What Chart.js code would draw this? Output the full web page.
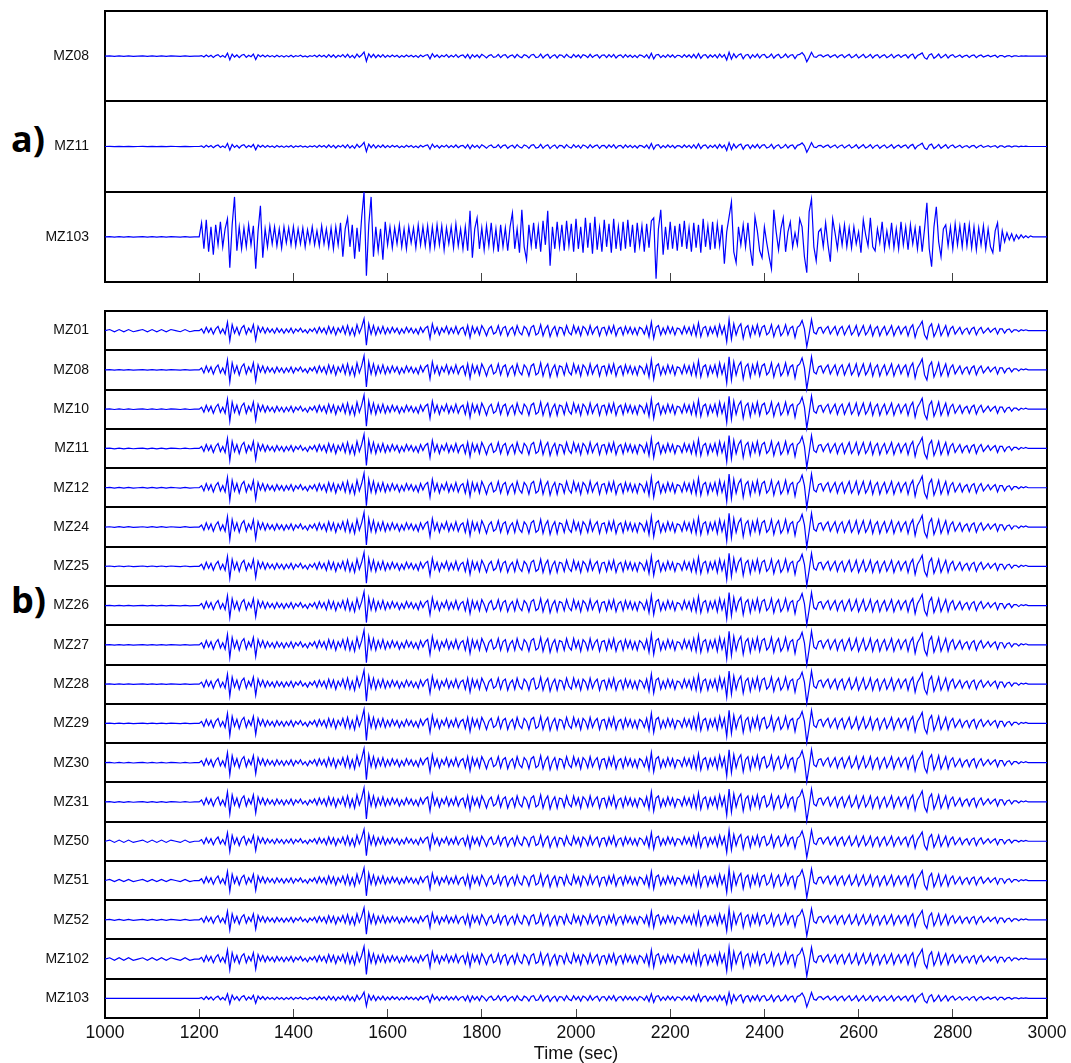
<!DOCTYPE html>
<html>
<head>
<meta charset="utf-8">
<script src="https://cdn.jsdelivr.net/npm/chart.js@4.4.1/dist/chart.umd.min.js"></script>
<style>
body{margin:0;background:#fff;overflow:hidden;width:1071px;height:1063px;position:relative;font-family:"Liberation Sans",Arial,sans-serif}
canvas{position:absolute;left:0}
#cA{top:0}
#cB{top:300px}
.pl{position:absolute;left:11px;font-family:"Open Sans","Noto Sans",sans-serif;font-weight:700;font-size:36px;line-height:1;color:#000}
</style>
</head>
<body>
<div class="pl" style="top:121px">a)</div>
<div class="pl" style="top:582px">b)</div>
<canvas id="cA" width="1071" height="290"></canvas>
<canvas id="cB" width="1071" height="765"></canvas>
<script>
// stations, top to bottom
var stationsA = ['MZ08','MZ11','MZ103'];
var stationsB = ['MZ01','MZ08','MZ10','MZ11','MZ12','MZ24','MZ25','MZ26','MZ27','MZ28','MZ29','MZ30','MZ31','MZ50','MZ51','MZ52','MZ102','MZ103'];

// trace gains (pixels per wave unit) and pre-event noise level
var gainsA = [0.3, 0.3, 1];
var noiseA = [0.2, 0.2, 0.3];
var gainsB = [0.85,1,1,1,1.05,1.05,1,1,1.05,1,1,1,1,0.85,0.9,0.85,0.9,0.45];
var noiseB = [1.1,0.3,0.3,0.3,0.3,0.3,0.3,0.3,0.3,0.3,0.3,0.3,0.3,1.2,1.1,0.5,1.3,0];

var xTicks = [1000,1200,1400,1600,1800,2000,2200,2400,2600,2800,3000];

// pre-event ripple, 1000-1190 s every 10 s
var preStart = 1000, preStep = 10;
var preNoise = [0,1,-1,1,-1,1,-1,0,1,-1,1,-1,1,-1,1,0,-1,1,-1,0];

// waveforms, from 1200 s every 5 s (up = positive)
var waveStart = 1200, waveStep = 5;
var waveShared = [
  0,2,-3,4,-2,3,-4,2,5,-3,2,-4,10,-12,7,-3,4,-5,3,6,
  -4,3,-2,7,-11,5,-2,4,-3,3,-2,2,-3,3,-2,2,-3,2,-2,3,
  -3,2,-1,3,-2,1,-3,2,-1,3,-3,4,-2,3,-4,5,-3,4,-5,3,
  -2,5,-4,6,-5,3,-6,7,-3,4,14,-17,8,-4,6,-5,4,-3,5,-4,
  3,-3,4,-2,3,-4,2,-3,4,-2,3,-3,2,-4,4,-2,3,5,-9,8,
  -3,4,-5,3,-2,5,-4,3,-3,5,-4,2,4,-5,6,-8,5,-3,4,-5,
  6,1,-6,2,5,-4,-2,6,-5,3,5,-6,1,4,-5,6,-2,-5,5,2,
  -6,4,6,-5,-3,7,-6,2,6,-7,1,5,-6,4,3,-5,6,-2,-5,6,
  -3,4,-6,5,2,-5,6,-4,2,5,-6,3,4,-5,5,-3,6,-6,2,4,
  -5,5,-3,4,-4,3,-5,4,2,-4,5,-7,10,-9,4,6,-5,3,-4,5,
  -3,4,-5,3,2,-4,5,-3,4,-5,6,-6,9,-7,3,5,-6,4,-3,5,
  -6,7,-4,5,-13,13,-10,8,-5,4,8,-9,3,6,-7,5,-4,7,-6,4,
  6,-5,-2,7,-7,2,6,-6,-2,7,-5,3,5,-8,4,6,12,2,-19,-4,
  13,-2,-4,3,4,-3,2,5,-4,1,5,-5,2,5,-5,1,6,-5,-1,6,
  -6,0,6,-5,-1,6,-6,2,5,-6,1,5,-5,0,6,-6,1,5,-4,2,
  5,-6,3,7,-8,2,6,11,-5,-10,4,8,-7,-1,7,-6,0,6,-6,2,
  5,-4,0,4,-4,1,3,-4,2,4,-5,1,4,-3,0,3,-2,1,3,-4,
  2,2,-3,1,2,-2,1,1,-1,1,0,1,0
];
var waveMZ103a = [
  0,14,-12,17,-15,10,-18,12,-8,15,-10,8,18,-31,12,40,-14,10,-12,9,
  -10,12,-8,11,-32,6,31,-21,8,-10,11,-7,10,-9,8,-11,10,-6,9,-8,
  10,-9,8,-7,9,-10,7,-6,10,-8,6,-9,11,-7,8,-10,9,-12,10,-8,
  14,-20,8,19,-10,12,-22,9,-15,20,45,-39,12,40,-20,10,-14,8,-23,15,
  -8,10,-11,9,-7,12,-10,8,-12,10,-6,9,-11,12,-8,10,-9,11,-12,10,
  -10,12,-8,11,-13,9,-7,10,-11,13,-9,8,-12,10,-14,26,-21,8,19,-12,
  9,-13,11,-9,14,-12,8,-15,12,-10,9,-14,10,24,-12,8,-16,27,-10,-23,
  12,-9,14,-12,10,-15,16,-8,26,-29,10,-12,15,-10,12,-14,16,-9,13,-15,
  18,-12,10,-16,19,-11,14,-17,20,-13,9,-15,17,-10,13,-16,18,-12,10,-14,
  15,-12,17,-10,12,-16,14,-9,11,-15,13,-11,16,19,-42,8,27,-18,10,-13,
  15,-12,11,-14,13,-10,16,-12,9,-15,14,-11,12,-16,18,-10,11,-13,15,-12,
  13,-9,12,-27,5,20,35,-15,-26,10,-8,12,-10,14,-12,-29,20,6,-14,-21,
  10,-6,-20,-32,27,5,-13,8,19,-15,5,15,-10,4,-8,18,10,-20,-36,25,
  38,-10,-24,5,8,-10,14,-8,-25,18,4,-12,10,-8,12,-10,9,-11,10,-7,
  5,-16,17,2,-9,19,-10,-14,8,-6,15,-12,6,-9,14,-11,8,-12,15,-8,
  10,-13,12,-7,9,-12,11,-15,8,34,-12,-30,10,30,-5,-20,8,12,-9,10,
  -12,13,-8,11,-10,14,-9,12,-11,10,-13,9,-8,11,-12,8,-10,-16,6,14,
  -15,6,-5,4,-3,3,-4,2,-2,2,-1,1,-1,1,0,0
];
var wavesA = [waveShared, waveShared, waveMZ103a];

function trace(wave, gain, noise, row, rowPx){
  var pts = [];
  preNoise.forEach(function(v, i){
    pts.push({x: preStart + i*preStep, y: row + 0.5 - v*noise/rowPx});
  });
  wave.forEach(function(v, i){
    pts.push({x: waveStart + i*waveStep, y: row + 0.5 - v*gain/rowPx});
  });
  pts.push({x: 3000, y: row + 0.5});
  return {data: pts, borderColor: '#0000ff', borderWidth: 1.2, pointRadius: 0, tension: 0};
}

// no extra room for edge labels, the frame sits at fixed pixels
function noPad(s){
  s.paddingTop = 0; s.paddingBottom = 0; s.paddingLeft = 0; s.paddingRight = 0;
}

function makeChart(id, names, sets, bottom){
  var n = names.length;
  return new Chart(document.getElementById(id), {
    type: 'line',
    data: {datasets: sets},
    options: {
      responsive: false, animation: false, devicePixelRatio: 1,
      layout: {padding: {top: 11, left: 0, right: 0, bottom: 0}},
      plugins: {legend: {display: false}, tooltip: {enabled: false}},
      scales: {
        x: {
          type: 'linear', min: 1000, max: 3000,
          afterBuildTicks: function(s){ s.ticks = xTicks.map(function(v){ return {value: v}; }); },
          afterFit: function(s){ s.height = bottom ? 47 : 8; noPad(s); },
          grid: {drawOnChartArea: false, drawTicks: true, tickLength: -9, color: '#444', lineWidth: 1},
          border: {display: true, color: '#000', width: 2},
          ticks: {display: bottom, padding: 14, autoSkip: false, maxRotation: 0, color: '#111',
                  font: {family: '"Liberation Sans", Arial, sans-serif', size: 17.5},
                  callback: function(v){ return String(v); }},
          title: {display: bottom, text: 'Time (sec)', color: '#111', padding: 0,
                  font: {family: '"Liberation Sans", Arial, sans-serif', size: 18}}
        },
        y: {
          type: 'linear', reverse: true, min: 0, max: n,
          afterBuildTicks: function(s){
            var t = [];
            for (var i = 0; i <= 2*n; i++) t.push({value: i/2});
            s.ticks = t;
          },
          afterFit: function(s){ s.width = 105; noPad(s); },
          grid: {drawTicks: false, lineWidth: 2,
                 color: function(c){ return (c.tick && c.tick.value % 1 === 0) ? '#000' : 'rgba(0,0,0,0)'; }},
          border: {display: true, color: '#000', width: 2},
          ticks: {autoSkip: false, padding: 16, color: '#111',
                  font: {family: '"Liberation Sans", Arial, sans-serif', size: 14},
                  callback: function(v){ return v % 1 ? names[Math.floor(v)] : ''; }}
        },
        yr: {
          type: 'linear', position: 'right', min: 0, max: 1,
          afterFit: function(s){ s.width = 24; noPad(s); },
          grid: {display: false},
          border: {display: true, color: '#000', width: 2},
          ticks: {display: false}
        }
      }
    }
  });
}

var setsA = stationsA.map(function(s, i){ return trace(wavesA[i], gainsA[i], noiseA[i], i, 90.5); });
var setsB = stationsB.map(function(s, i){ return trace(waveShared, gainsB[i], noiseB[i], i, 39.3); });

makeChart('cA', stationsA, setsA, false);
makeChart('cB', stationsB, setsB, true);
</script>
</body>
</html>
